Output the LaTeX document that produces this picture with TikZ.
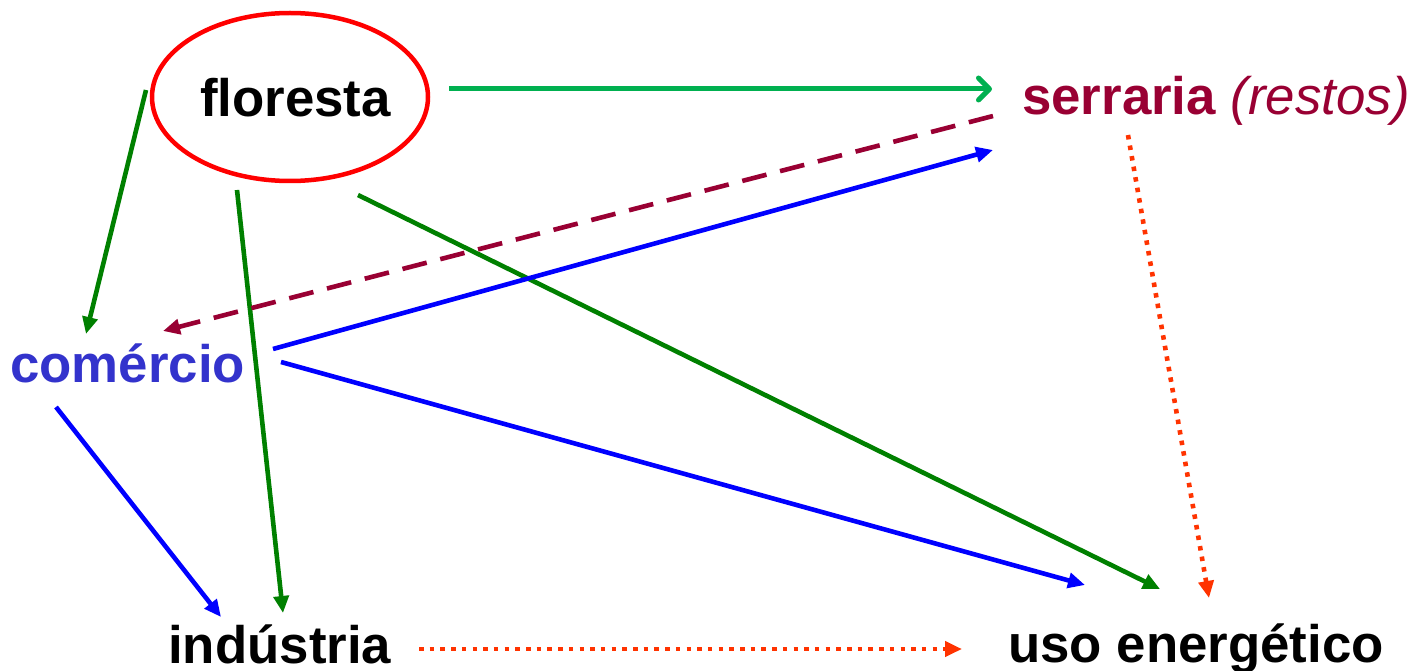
\documentclass[tikz,border=0pt]{standalone}
\usepackage{fontspec}
\setmainfont{Liberation Sans}
\usetikzlibrary{arrows.meta,shapes.geometric}
\definecolor{flgreen}{HTML}{00B050}
\definecolor{dkgreen}{HTML}{008000}
\definecolor{maroon}{HTML}{990033}
\definecolor{combl}{HTML}{3333CC}
\definecolor{orng}{HTML}{FF3300}
\tikzset{
  lbl/.style={inner sep=0pt, anchor=base west, font=\fontsize{52.8}{60}\selectfont\bfseries},
  flow/.style={line width=4.6pt, -{Triangle[length=17pt,width=15pt]}},
  dotflow/.style={flow, color=orng, dash pattern=on 4.5pt off 6.2pt},
  dashflow/.style={flow, color=maroon, dash pattern=on 25pt off 14pt},
}
\begin{document}
\begin{tikzpicture}[x=1pt,y=-1pt]
\useasboundingbox (0,0) rectangle (1416,671);

% labels
\node[ellipse, draw=red, line width=4.5pt, minimum width=276pt, minimum height=168pt] (ell) at (290,97) {};
\node[lbl] (flo) at (200,117) {floresta};
\node[lbl, text=maroon] (ser) at (1022,115) {serraria \fontseries{m}\itshape(restos)};
\node[lbl, text=combl] (com) at (10,382) {comércio};
\node[lbl] (ind) at (168,663) {indústria};
\node[lbl] (uso) at (1008,662) {uso energético};

% connector ends
\coordinate (fs1) at (449,89);   \coordinate (fs2) at (992,89);
\coordinate (fc1) at (146,90);   \coordinate (fc2) at (86,334);
\coordinate (fi1) at (237,190);  \coordinate (fi2) at (283,613);
\coordinate (fu1) at (358,195);  \coordinate (fu2) at (1160,589);
\coordinate (sc1) at (993,116);  \coordinate (sc2) at (163,331);
\coordinate (cs1) at (273,349);  \coordinate (cs2) at (993,150);
\coordinate (cu1) at (281,362);  \coordinate (cu2) at (1085,585);
\coordinate (ci1) at (56,407);   \coordinate (ci2) at (221,617);
\coordinate (su1) at (1128,135); \coordinate (su2) at (1209,598);
\coordinate (iu1) at (419,649);  \coordinate (iu2) at (962,649);

% floresta flows
\draw[flgreen, line width=5pt, -{Straight Barb[round,length=11pt,width=22pt]}] (fs1) -- (fs2);
\draw[flow, dkgreen] (fc1) -- (fc2);
\draw[flow, dkgreen] (fi1) -- (fi2);
\draw[flow, dkgreen] (fu1) -- (fu2);

% serraria residues back to trade
\draw[dashflow] (sc1) -- (sc2);

% trade flows
\draw[flow, blue] (cs1) -- (cs2);
\draw[flow, blue] (cu1) -- (cu2);
\draw[flow, blue] (ci1) -- (ci2);

% energy use
\draw[dotflow] (su1) -- (su2);
\draw[dotflow] (iu1) -- (iu2);
\end{tikzpicture}
\end{document}
